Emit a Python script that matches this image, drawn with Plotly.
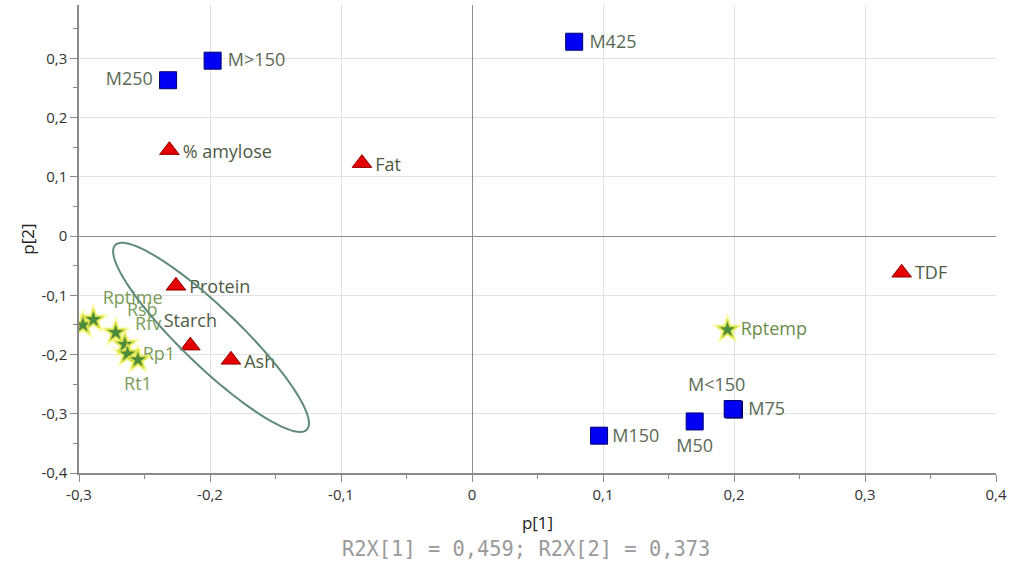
import numpy as np
import plotly.graph_objects as go

# ---------------- data ----------------
m_labels = ["M250", "M>150", "M425", "M150", "M50", "M75", "M<150"]
m_x = [-0.232, -0.198, 0.078, 0.097, 0.170, 0.200, 0.199]
m_y = [0.263, 0.296, 0.328, -0.337, -0.313, -0.293, -0.292]

c_labels = ["% amylose", "Fat", "Protein", "Starch", "Ash", "TDF"]
c_x = [-0.231, -0.084, -0.226, -0.215, -0.184, 0.328]
c_y = [0.145, 0.123, -0.084, -0.185, -0.209, -0.062]

r_labels = ["Rbr", "Rptime", "Rsb", "Rfv", "Rp1", "Rt1", "Rptemp"]
r_x = [-0.297, -0.289, -0.272, -0.265, -0.263, -0.255, 0.195]
r_y = [-0.150, -0.141, -0.163, -0.183, -0.199, -0.209, -0.158]

x_ticks = [-0.3, -0.2, -0.1, 0, 0.1, 0.2, 0.3, 0.4]
x_ticktext = ["-0,3", "-0,2", "-0,1", "0", "0,1", "0,2", "0,3", "0,4"]
y_ticks = [-0.4, -0.3, -0.2, -0.1, 0, 0.1, 0.2, 0.3]
y_ticktext = ["-0,4", "-0,3", "-0,2", "-0,1", "0", "0,1", "0,2", "0,3"]

x_range = [-0.3, 0.4]
y_range = [-0.4, 0.39]

# ---------------- layout geometry / styles ----------------
W, H = 1019, 564
ML, MR, MT, MB = 79, 23, 5, 91
sx = (W - ML - MR) / (x_range[1] - x_range[0])   # px per x unit
sy = (H - MT - MB) / (y_range[1] - y_range[0])   # px per y unit

# label offsets in pixels: (dx, dy_down, textposition)
m_off = [(-3, 0, "middle left"), (3, 1, "middle right"), (3, 2, "middle right"),
         (1, 2, "middle right"), (0, 26, "middle center"), (2, 1, "middle right"),
         (-16, -23, "middle center")]
c_off = [(1, 3, "middle right"), (1, 3, "middle right"), (1, 3, "middle right"),
         (0, -23, "middle center"), (1, 4, "middle right"), (1, 2, "middle right")]
r_off = [(-7, 4, "middle right"), (-3, -20, "middle right"), (-1, -21, "middle right"),
         (-2, -19, "middle right"), (3, 2, "middle right"), (0, 26, "middle center"),
         (1, 1, "middle right")]

FONT = "Open Sans"
LBL_SIZE = 18
M_TXT = "#5b6a55"
C_TXT = "#4d5a44"
R_TXT = "#7a9c58"


def label_trace(xs, ys, labels, offs, color):
    lx = [x + o[0] / sx for x, o in zip(xs, offs)]
    ly = [y - o[1] / sy for y, o in zip(ys, offs)]
    pos = [o[2] for o in offs]
    return go.Scatter(x=lx, y=ly, mode="markers+text", text=labels,
                      textposition=pos, hoverinfo="skip",
                      marker=dict(size=18, opacity=0),
                      textfont=dict(family=FONT, size=LBL_SIZE, color=color),
                      showlegend=False, cliponaxis=False)


fig = go.Figure()

# labels first (markers drawn over them)
fig.add_trace(label_trace(m_x, m_y, m_labels, m_off, M_TXT))
fig.add_trace(label_trace(c_x, c_y, c_labels, c_off, C_TXT))
r_colors = [R_TXT] * 6 + ["#6a8c4c"]
for i in range(len(r_labels)):
    fig.add_trace(label_trace([r_x[i]], [r_y[i]], [r_labels[i]], [r_off[i]], r_colors[i]))

# ellipse outline
e_cx, e_cy = -0.1992, -0.171
e_a, e_b, e_ang = 133, 29, np.deg2rad(43.9)   # px semi-axes, screen angle
t = np.linspace(0, 2 * np.pi, 121)
px = e_a * np.cos(t) * np.cos(e_ang) - e_b * np.sin(t) * np.sin(e_ang)
py = e_a * np.cos(t) * np.sin(e_ang) + e_b * np.sin(t) * np.cos(e_ang)
ex = e_cx + px / sx
ey = e_cy - py / sy
path = "M " + " L ".join(f"{a:.5f},{b:.5f}" for a, b in zip(ex, ey)) + " Z"
fig.add_shape(type="path", path=path, xref="x", yref="y",
              line=dict(color="#5f8a78", width=2), layer="above")

# markers
fig.add_trace(go.Scatter(x=m_x, y=m_y, mode="markers", showlegend=False,
                         marker=dict(symbol="square", size=17, color="#0000f5",
                                     line=dict(color="#00006a", width=1))))
fig.add_trace(go.Scatter(x=c_x, y=c_y, mode="markers", showlegend=False,
                         marker=dict(symbol="triangle-up", size=17, color="#e40000",
                                     line=dict(color="#900000", width=1))))
fig.add_trace(go.Scatter(x=r_x, y=r_y, mode="markers", showlegend=False,
                         hoverinfo="skip",
                         marker=dict(symbol="star", size=24, color="rgba(245,245,90,0.55)",
                                     line=dict(width=0))))
fig.add_trace(go.Scatter(x=r_x, y=r_y, mode="markers", showlegend=False,
                         marker=dict(symbol="star", size=15, color="#4c8a3c",
                                     line=dict(color="#d8e04a", width=1.5))))

axis_common = dict(showline=True, linecolor="#8a8a8a", linewidth=1.5,
                   ticks="outside", ticklen=7, tickcolor="#8a8a8a",
                   showgrid=True, gridcolor="#e2e2e2", gridwidth=1,
                   zeroline=True, zerolinecolor="#8c8c8c", zerolinewidth=1.2,
                   tickfont=dict(family=FONT, size=15, color="#333"),
                   automargin=False,
                   minor=dict(ticklen=4, tickcolor="#8a8a8a", showgrid=False))

fig.update_xaxes(range=x_range, tickvals=x_ticks, ticktext=x_ticktext,
                 title=dict(text="p[1]", font=dict(family=FONT, size=17, color="#222"),
                            standoff=14),
                 **axis_common)
fig.update_xaxes(minor_dtick=0.05, minor_tick0=0)
fig.update_yaxes(range=y_range, tickvals=y_ticks, ticktext=y_ticktext,
                 title=dict(text="p[2]", font=dict(family=FONT, size=17, color="#222"),
                            standoff=2),
                 **axis_common)
fig.update_yaxes(minor_dtick=0.05, minor_tick0=0)

fig.add_annotation(text="R2X[1] = 0,459; R2X[2] = 0,373", xref="paper", yref="paper",
                   x=0.487, y=-0.162, showarrow=False, xanchor="center", yanchor="middle",
                   font=dict(family="DejaVu Sans Mono", size=20.4, color="#9a9a9a"))

fig.update_layout(width=W, height=H, margin=dict(l=ML, r=MR, t=MT, b=MB),
                  plot_bgcolor="white", paper_bgcolor="white",
                  font=dict(family=FONT))

fig.write_html("out.html", config={"displayModeBar": False},
               post_script="document.body.style.margin='0px';document.body.style.overflow='hidden';")
